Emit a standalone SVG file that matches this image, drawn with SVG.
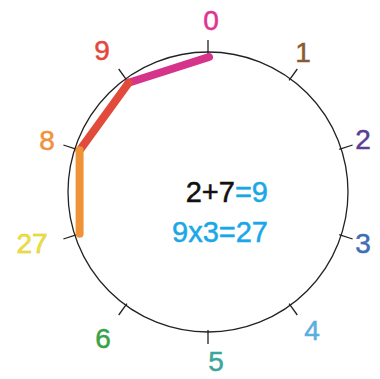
<svg xmlns="http://www.w3.org/2000/svg" width="380" height="379" viewBox="0 0 380 379">
<style>
.lbl{font-family:"Liberation Sans",Arial,sans-serif;font-size:28px;text-anchor:middle;stroke-width:0.5}
.eq{font-family:"Liberation Sans",Arial,sans-serif;font-size:29px;text-anchor:end;stroke-width:0.5}
.tick{stroke:#222;stroke-width:1.3}
.seg{fill:none;stroke-width:8;stroke-linecap:round;stroke-linejoin:round}
</style>
<rect width="380" height="379" fill="#fff"/>
<g id="dial">
<circle cx="208" cy="192" r="140" fill="none" stroke="#222" stroke-width="1.3"/>
<g id="ticks">
<line class="tick" x1="208.0" y1="54.0" x2="208.0" y2="40.0"/>
<line class="tick" x1="289.1" y1="80.4" x2="297.3" y2="69.0"/>
<line class="tick" x1="339.2" y1="149.4" x2="352.6" y2="145.0"/>
<line class="tick" x1="339.2" y1="234.6" x2="352.6" y2="239.0"/>
<line class="tick" x1="289.1" y1="303.6" x2="297.3" y2="315.0"/>
<line class="tick" x1="208.0" y1="330.0" x2="208.0" y2="344.0"/>
<line class="tick" x1="126.9" y1="303.6" x2="118.7" y2="315.0"/>
<line class="tick" x1="76.8" y1="234.6" x2="63.4" y2="239.0"/>
<line class="tick" x1="76.8" y1="149.4" x2="63.4" y2="145.0"/>
<line class="tick" x1="126.9" y1="80.4" x2="118.7" y2="69.0"/>
</g>
</g>
<g id="connectors">
<path class="seg" stroke="#d6338a" d="M209,57 L128.6,82.8"/>
<path class="seg" stroke="#e24a3b" d="M128.6,82.8 L79.6,150.3"/>
<path class="seg" stroke="#ef9436" d="M79.6,150.3 L79.6,233.7"/>
</g>
<g id="n0"><text class="lbl" x="211" y="30" fill="#e0338f" stroke="#e0338f">0</text></g>
<g id="n1"><text class="lbl" x="303" y="62" fill="#8b5a33" stroke="#8b5a33">1</text></g>
<g id="n2"><text class="lbl" x="363" y="149" fill="#5b3e96" stroke="#5b3e96">2</text></g>
<g id="n3"><text class="lbl" x="363" y="253" fill="#3d6fb6" stroke="#3d6fb6">3</text></g>
<g id="n4"><text class="lbl" x="312" y="340" fill="#5aaee0" stroke="#5aaee0">4</text></g>
<g id="n5"><text class="lbl" x="216" y="371" fill="#3ba79a" stroke="#3ba79a">5</text></g>
<g id="n6"><text class="lbl" x="103" y="348" fill="#3aa24a" stroke="#3aa24a">6</text></g>
<g id="n27"><text class="lbl" x="32" y="253" fill="#f2e43a" stroke="#d6c62a" stroke-width="0.6">27</text></g>
<g id="n8"><text class="lbl" x="47" y="150" fill="#f0923a" stroke="#f0923a">8</text></g>
<g id="n9"><text class="lbl" x="102" y="60" fill="#e5473a" stroke="#e5473a">9</text></g>
<g id="equations">
<text class="eq" x="268" y="202"><tspan fill="#111" stroke="#111">2+7</tspan><tspan fill="#1aa7e8" stroke="#1aa7e8">=9</tspan></text>
<text class="eq" x="268" y="242" fill="#1aa7e8" stroke="#1aa7e8">9x3=27</text>
</g>
</svg>
